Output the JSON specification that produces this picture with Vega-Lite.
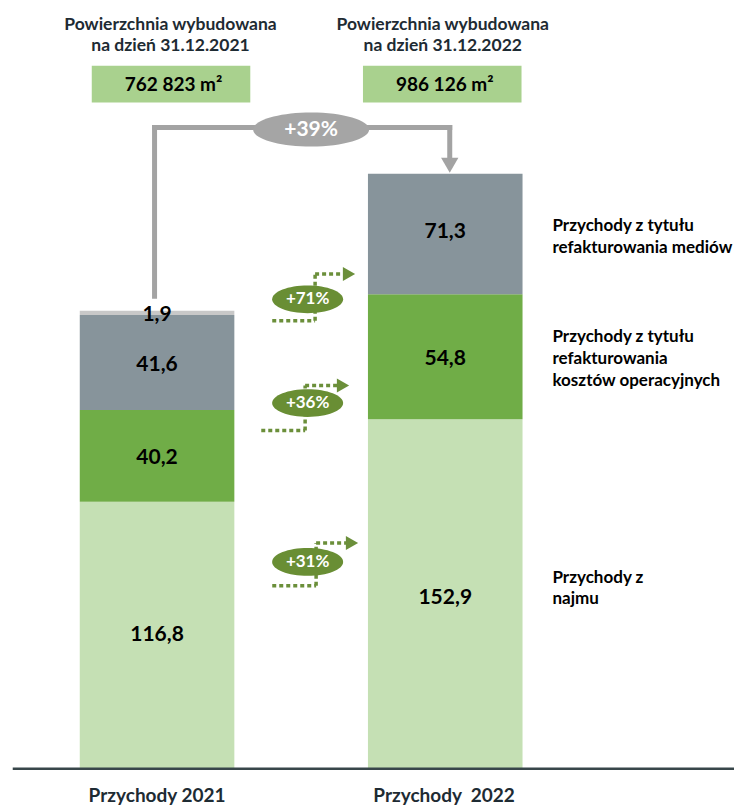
{
  "$schema": "https://vega.github.io/schema/vega-lite/v6.json",
  "width": 736,
  "height": 807,
  "autosize": {"type": "fit", "contains": "padding"},
  "padding": 0,
  "background": "white",
  "config": {"view": {"stroke": null}, "font": "Lato"},
  "datasets": {
    "bars": [
      {"year": "2021", "seg": "najem", "x0": 0.7318, "x1": 1.2682, "v0": 0, "v1": 116.8},
      {"year": "2021", "seg": "koszty", "x0": 0.7318, "x1": 1.2682, "v0": 116.8, "v1": 157.0},
      {"year": "2021", "seg": "media", "x0": 0.7318, "x1": 1.2682, "v0": 157.0, "v1": 198.6},
      {"year": "2021", "seg": "inne", "x0": 0.7318, "x1": 1.2682, "v0": 198.6, "v1": 200.5},
      {"year": "2022", "seg": "najem", "x0": 1.7318, "x1": 2.2682, "v0": 0, "v1": 152.9},
      {"year": "2022", "seg": "koszty", "x0": 1.7318, "x1": 2.2682, "v0": 152.9, "v1": 207.7},
      {"year": "2022", "seg": "media", "x0": 1.7318, "x1": 2.2682, "v0": 207.7, "v1": 260.5}
    ],
    "boxes": [
      {"x0": 0.7734, "x1": 1.3235, "v0": 291.7, "v1": 307.9},
      {"x0": 1.7145, "x1": 2.2647, "v0": 291.7, "v1": 307.9}
    ],
    "connector": [
      {"x0": 0.9913, "x1": 0.9913, "v0": 205.7, "v1": 281.9},
      {"x0": 0.9827, "x1": 2.0242, "v0": 280.8, "v1": 280.8},
      {"x0": 2.0156, "x1": 2.0156, "v0": 266.5, "v1": 281.9}
    ],
    "connectorHead": [{"x": 2.0156, "v": 264.2}],
    "dots": [
      {"x0": 1.3997, "x1": 1.5484, "v0": 196.1, "v1": 196.1},
      {"x0": 1.5484, "x1": 1.5484, "v0": 196.1, "v1": 216.6},
      {"x0": 1.5484, "x1": 1.6419, "v0": 216.6, "v1": 216.6},
      {"x0": 1.3616, "x1": 1.5138, "v0": 148.0, "v1": 148.0},
      {"x0": 1.5138, "x1": 1.5138, "v0": 148.0, "v1": 167.7},
      {"x0": 1.5138, "x1": 1.6246, "v0": 167.7, "v1": 167.7},
      {"x0": 1.3997, "x1": 1.5519, "v0": 79.9, "v1": 79.9},
      {"x0": 1.5519, "x1": 1.5519, "v0": 79.9, "v1": 98.7},
      {"x0": 1.5519, "x1": 1.6557, "v0": 98.7, "v1": 98.7}
    ],
    "greenHeads": [
      {"x": 1.6661, "v": 216.6},
      {"x": 1.6453, "v": 167.7},
      {"x": 1.6765, "v": 98.7}
    ],
    "grayEllipse": [{"x": 1.5346, "v": 279.9, "label": "+39%"}],
    "greenEllipses": [
      {"x": 1.5225, "v": 205.5, "label": "+71%"},
      {"x": 1.5225, "v": 160.0, "label": "+36%"},
      {"x": 1.5225, "v": 90.4, "label": "+31%"}
    ],
    "barLabels": [
      {"x": 1.0, "v": 198.7, "label": "1,9"},
      {"x": 1.0, "v": 176.9, "label": "41,6"},
      {"x": 1.0, "v": 135.8, "label": "40,2"},
      {"x": 1.0, "v": 58.5, "label": "116,8"},
      {"x": 2.0, "v": 234.9, "label": "71,3"},
      {"x": 2.0, "v": 179.5, "label": "54,8"},
      {"x": 2.0, "v": 74.7, "label": "152,9"}
    ],
    "headers": [
      {"x": 1.0467, "v": 325.8, "label": "Powierzchnia wybudowana"},
      {"x": 1.0467, "v": 316.6, "label": "na dzień 31.12.2021"},
      {"x": 1.9913, "v": 325.8, "label": "Powierzchnia wybudowana"},
      {"x": 1.9913, "v": 316.6, "label": "na dzień 31.12.2022"}
    ],
    "boxText": [
      {"x": 1.0571, "v": 299.6, "label": "762 823 m²"},
      {"x": 1.9983, "v": 299.6, "label": "986 126 m²"}
    ],
    "rightLabels": [
      {"x": 2.372, "v": 237.6, "label": "Przychody z tytułu"},
      {"x": 2.372, "v": 228.0, "label": "refakturowania mediów"},
      {"x": 2.372, "v": 189.1, "label": "Przychody z tytułu"},
      {"x": 2.372, "v": 179.5, "label": "refakturowania"},
      {"x": 2.372, "v": 169.9, "label": "kosztów operacyjnych"},
      {"x": 2.372, "v": 83.4, "label": "Przychody z"},
      {"x": 2.372, "v": 74.2, "label": "najmu"}
    ],
    "baseline": [{"x0": 0.4992, "x1": 3.002, "v0": -0.3, "v1": -0.3}],
    "bottomLabels": [
      {"x": 1.0, "v": -14.85, "label": "Przychody 2021"},
      {"x": 1.996, "v": -14.85, "label": "Przychody\u00a0 2022"}
    ]
  },
  "layer": [
    {
      "data": {"name": "bars"},
      "mark": {"type": "rect"},
      "encoding": {
        "x": {"field": "x0", "type": "quantitative", "scale": {"domain": [0.455, 3.002], "nice": false, "zero": false}, "axis": null},
        "x2": {"field": "x1"},
        "y": {"field": "v0", "type": "quantitative", "scale": {"domain": [-15.72, 336.68], "nice": false, "zero": false}, "axis": null},
        "y2": {"field": "v1"},
        "color": {"field": "seg", "type": "nominal", "scale": {"domain": ["najem", "koszty", "media", "inne"], "range": ["#c5e0b4", "#70ad47", "#87949b", "#c8c8c8"]}, "legend": null}
      }
    },
    {
      "data": {"name": "boxes"},
      "mark": {"type": "rect", "color": "#a9d18e"},
      "encoding": {
        "x": {"field": "x0", "type": "quantitative", "axis": null},
        "x2": {"field": "x1"},
        "y": {"field": "v0", "type": "quantitative", "axis": null},
        "y2": {"field": "v1"}
      }
    },
    {
      "data": {"name": "connector"},
      "mark": {"type": "rule", "color": "#a3a3a3", "strokeWidth": 5, "strokeCap": "butt"},
      "encoding": {
        "x": {"field": "x0", "type": "quantitative", "axis": null},
        "x2": {"field": "x1"},
        "y": {"field": "v0", "type": "quantitative", "axis": null},
        "y2": {"field": "v1"}
      }
    },
    {
      "data": {"name": "connectorHead"},
      "mark": {"type": "point", "shape": "triangle-down", "size": 300, "filled": true, "color": "#a3a3a3", "opacity": 1},
      "encoding": {
        "x": {"field": "x", "type": "quantitative", "axis": null},
        "y": {"field": "v", "type": "quantitative", "axis": null}
      }
    },
    {
      "data": {"name": "dots"},
      "mark": {"type": "rule", "color": "#6b8f3a", "strokeWidth": 3.5, "strokeDash": [4, 3], "strokeCap": "butt"},
      "encoding": {
        "x": {"field": "x0", "type": "quantitative", "axis": null},
        "x2": {"field": "x1"},
        "y": {"field": "v0", "type": "quantitative", "axis": null},
        "y2": {"field": "v1"}
      }
    },
    {
      "data": {"name": "greenHeads"},
      "mark": {"type": "point", "shape": "triangle-right", "size": 200, "filled": true, "color": "#6b8f3a", "opacity": 1},
      "encoding": {
        "x": {"field": "x", "type": "quantitative", "axis": null},
        "y": {"field": "v", "type": "quantitative", "axis": null}
      }
    },
    {
      "data": {"name": "grayEllipse"},
      "mark": {"type": "point", "shape": "M -1 0 A 1 0.293 0 1 0 1 0 A 1 0.293 0 1 0 -1 0 Z", "size": 13456, "filled": true, "color": "#a5a5a5", "opacity": 1},
      "encoding": {
        "x": {"field": "x", "type": "quantitative", "axis": null},
        "y": {"field": "v", "type": "quantitative", "axis": null}
      }
    },
    {
      "data": {"name": "greenEllipses"},
      "mark": {"type": "point", "shape": "M -1 0 A 1 0.39 0 1 0 1 0 A 1 0.39 0 1 0 -1 0 Z", "size": 5041, "filled": true, "color": "#698e34", "opacity": 1},
      "encoding": {
        "x": {"field": "x", "type": "quantitative", "axis": null},
        "y": {"field": "v", "type": "quantitative", "axis": null}
      }
    },
    {
      "data": {"name": "grayEllipse"},
      "mark": {"type": "text", "font": "Lato", "fontWeight": "bold", "fontSize": 21, "color": "white", "align": "center", "baseline": "middle"},
      "encoding": {
        "x": {"field": "x", "type": "quantitative", "axis": null},
        "y": {"field": "v", "type": "quantitative", "axis": null},
        "text": {"field": "label"}
      }
    },
    {
      "data": {"name": "greenEllipses"},
      "mark": {"type": "text", "font": "Lato", "fontWeight": "bold", "fontSize": 17, "color": "white", "align": "center", "baseline": "middle"},
      "encoding": {
        "x": {"field": "x", "type": "quantitative", "axis": null},
        "y": {"field": "v", "type": "quantitative", "axis": null},
        "text": {"field": "label"}
      }
    },
    {
      "data": {"name": "barLabels"},
      "mark": {"type": "text", "font": "Lato", "fontWeight": "bold", "fontSize": 21, "color": "black", "align": "center", "baseline": "middle"},
      "encoding": {
        "x": {"field": "x", "type": "quantitative", "axis": null},
        "y": {"field": "v", "type": "quantitative", "axis": null},
        "text": {"field": "label"}
      }
    },
    {
      "data": {"name": "headers"},
      "mark": {"type": "text", "font": "Lato", "fontWeight": "bold", "fontSize": 17.5, "color": "#1e2b33", "align": "center", "baseline": "middle"},
      "encoding": {
        "x": {"field": "x", "type": "quantitative", "axis": null},
        "y": {"field": "v", "type": "quantitative", "axis": null},
        "text": {"field": "label"}
      }
    },
    {
      "data": {"name": "boxText"},
      "mark": {"type": "text", "font": "Lato", "fontWeight": "bold", "fontSize": 19, "color": "black", "align": "center", "baseline": "middle"},
      "encoding": {
        "x": {"field": "x", "type": "quantitative", "axis": null},
        "y": {"field": "v", "type": "quantitative", "axis": null},
        "text": {"field": "label"}
      }
    },
    {
      "data": {"name": "rightLabels"},
      "mark": {"type": "text", "font": "Lato", "fontWeight": "bold", "fontSize": 17, "color": "black", "align": "left", "baseline": "middle"},
      "encoding": {
        "x": {"field": "x", "type": "quantitative", "axis": null},
        "y": {"field": "v", "type": "quantitative", "axis": null},
        "text": {"field": "label"}
      }
    },
    {
      "data": {"name": "baseline"},
      "mark": {"type": "rule", "color": "#38464a", "strokeWidth": 2.5},
      "encoding": {
        "x": {"field": "x0", "type": "quantitative", "axis": null},
        "x2": {"field": "x1"},
        "y": {"field": "v0", "type": "quantitative", "axis": null},
        "y2": {"field": "v1"}
      }
    },
    {
      "data": {"name": "bottomLabels"},
      "mark": {"type": "text", "font": "Lato", "fontWeight": "bold", "fontSize": 19, "color": "#1e2b33", "align": "center", "baseline": "alphabetic"},
      "encoding": {
        "x": {"field": "x", "type": "quantitative", "axis": null},
        "y": {"field": "v", "type": "quantitative", "axis": null},
        "text": {"field": "label"}
      }
    }
  ]
}
